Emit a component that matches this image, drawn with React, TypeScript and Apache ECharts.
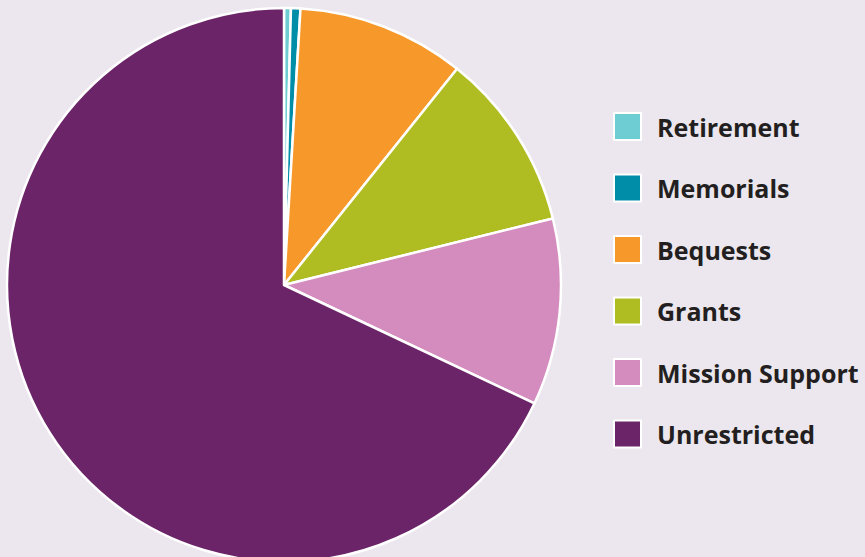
import React, { useEffect, useRef } from "react";
import * as echarts from "echarts";

const categories = ["Retirement", "Memorials", "Bequests", "Grants", "Mission Support", "Unrestricted"];
const values = [0.4, 0.55, 9.8, 10.4, 10.9, 68.0];
const colors = ["#6ECCD3", "#008DA8", "#F7982A", "#AFBD22", "#D48BBE", "#6B2468"];

export default function App() {
  const ref = useRef<HTMLDivElement>(null);
  useEffect(() => {
    if (!ref.current) return;
    const chart = echarts.init(ref.current, null, { renderer: "svg" });
    chart.setOption({
      animation: false,
      backgroundColor: "#ECE7EE",
      color: colors,
      legend: {
        orient: "vertical",
        left: 613,
        top: 112,
        padding: 0,
        itemWidth: 27,
        itemHeight: 27,
        itemGap: 32.5,
        icon: "rect",
        selectedMode: false,
        data: categories,
        textStyle: {
          fontFamily: "Open Sans",
          fontWeight: "bold",
          fontSize: 25,
          color: "#231F20",
          padding: [0, 0, 0, 11],
        },
      },
      series: [
        {
          type: "pie",
          center: [284, 285],
          radius: 277,
          startAngle: 90,
          clockwise: true,
          label: { show: false },
          labelLine: { show: false },
          emphasis: { disabled: true },
          itemStyle: { borderColor: "#ffffff", borderWidth: 2.5 },
          data: categories.map((name, i) => ({ name, value: values[i] })),
        },
      ],
    });
    return () => chart.dispose();
  }, []);
  return <div ref={ref} style={{ position: "fixed", left: 0, top: 0, width: 865, height: 557 }} />;
}
